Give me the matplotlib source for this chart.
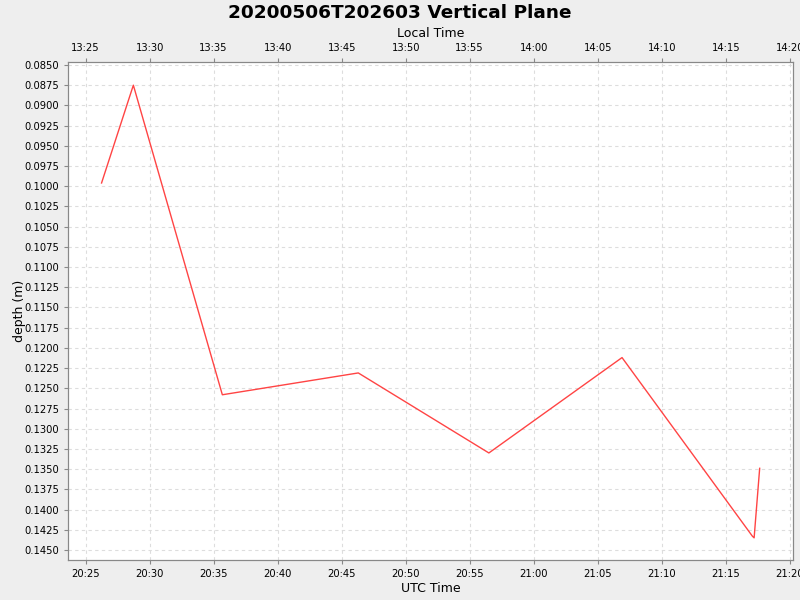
import numpy as np
import pandas as pd
import matplotlib
matplotlib.use('Agg')
import matplotlib.pyplot as plt
import matplotlib.dates as mdates

# readings (UTC)
times = ['2020-05-06 20:26:15', '2020-05-06 20:28:44', '2020-05-06 20:35:41',
         '2020-05-06 20:46:18', '2020-05-06 20:56:30', '2020-05-06 21:06:54',
         '2020-05-06 21:17:05', '2020-05-06 21:17:13', '2020-05-06 21:17:39']
depth = [0.0996, 0.0875, 0.1258, 0.1231, 0.1330, 0.1212, 0.1433, 0.1435, 0.1349]
utc_offset_hours = -7

t = pd.to_datetime(times)

fig = plt.figure(figsize=(8, 6), dpi=100, facecolor='#eeeeee')
ax = fig.add_axes([0.0856, 0.0667, 0.9056, 0.83])
ax.set_facecolor('white')

ax.plot(t, depth, color='#ff4444', lw=1)

xmin = pd.Timestamp('2020-05-06 20:23:40')
xmax = pd.Timestamp('2020-05-06 21:20:15')
ax.set_xlim(xmin, xmax)
ax.set_ylim(0.14624, 0.08463)

ax.set_yticks(np.arange(0.085, 0.14501, 0.0025))
ax.yaxis.set_major_formatter(plt.FormatStrFormatter('%.4f'))
ax.xaxis.set_major_locator(mdates.MinuteLocator(byminute=range(0, 60, 5)))
ax.xaxis.set_major_formatter(mdates.DateFormatter('%H:%M'))

ax.grid(True, color='#dddddd', ls=(0, (3, 3)), lw=0.8)
for s in ax.spines.values():
    s.set_color('#888888')
ax.tick_params(labelsize=7.2, colors='#888888', labelcolor='black', length=3)
ax.set_xlabel('UTC Time', fontsize=9, labelpad=2)
ax.set_ylabel('depth (m)', fontsize=9)
ax.yaxis.set_label_coords(-0.058, 0.5)

off = pd.Timedelta(hours=utc_offset_hours)
top = ax.twiny()
top.set_xlim(xmin + off, xmax + off)
top.xaxis.set_major_locator(mdates.MinuteLocator(byminute=range(0, 60, 5)))
top.xaxis.set_major_formatter(mdates.DateFormatter('%H:%M'))
top.tick_params(labelsize=7.2, colors='#888888', labelcolor='black', length=3)
for s in top.spines.values():
    s.set_color('#888888')
top.set_xlabel('Local Time', fontsize=9, labelpad=4)

fig.suptitle('20200506T202603 Vertical Plane', fontsize=13.3, fontweight='bold', y=0.993)

fig.savefig('out.png', dpi=100, facecolor=fig.get_facecolor())
